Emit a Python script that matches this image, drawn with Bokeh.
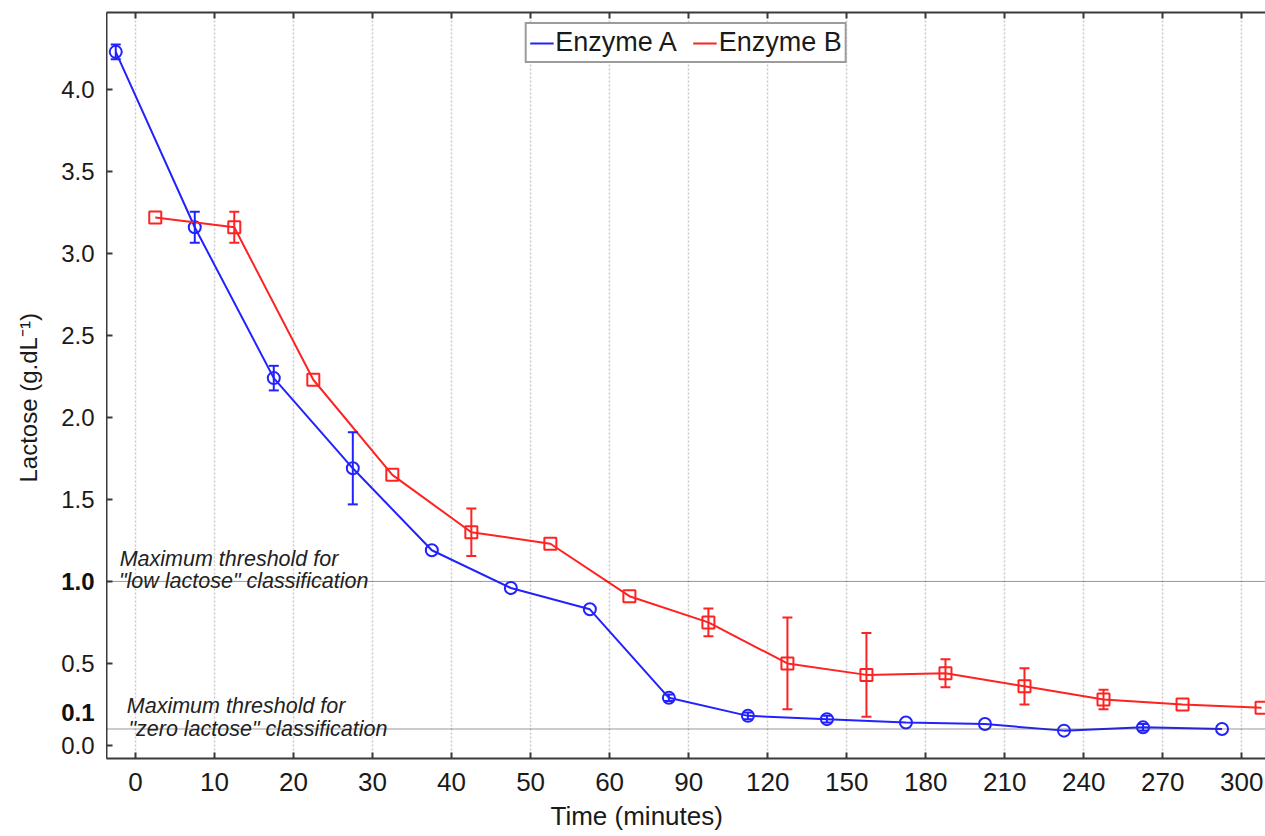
import math
from bokeh.plotting import figure
from bokeh.layouts import row
from bokeh.models import (Range1d, FixedTicker, LinearAxis, Span, Label, Legend,
                          LegendItem, ColumnDataSource, Whisker, TeeHead, Title)
from bokeh.core.properties import value
from bokeh.embed import file_html
from bokeh.resources import INLINE

# ---------------- data ----------------
time_labels = ["0", "10", "20", "30", "40", "50", "60", "90", "120", "150",
               "180", "210", "240", "270", "300"]
enzyme_a = [4.23, 3.16, 2.24, 1.69, 1.19, 0.96, 0.83, 0.29, 0.18, 0.16,
            0.14, 0.13, 0.09, 0.11, 0.10]
enzyme_a_err = [0.045, 0.095, 0.075, 0.22, 0, 0, 0, 0.02, 0.02, 0.02,
                0, 0, 0, 0.02, 0]
enzyme_b = [3.22, 3.16, 2.23, 1.65, 1.30, 1.23, 0.91, 0.75, 0.50, 0.43,
            0.44, 0.36, 0.28, 0.25, 0.23]
enzyme_b_err = [0, 0.095, 0, 0, 0.145, 0, 0, 0.085, 0.28, 0.255,
                 0.085, 0.11, 0.06, 0, 0]
y_ticks = [0.0, 0.5, 1.0, 1.5, 2.0, 2.5, 3.0, 3.5, 4.0]
low_lactose_limit = 1.0
zero_lactose_limit = 0.1
# the bold "0.1" label sits a little above its line, clear of "0.0"
zero_label_pos = 0.2

BLUE = "#2222ff"
RED = "#ff2222"
AX = "#3a3a3a"
TXT = "#1a1a1a"
FONT = "Liberation Sans"

slots = list(range(len(time_labels)))
a_x = [s - 0.25 for s in slots]
b_x = [s + 0.25 for s in slots]

src_a = ColumnDataSource(dict(x=a_x, y=enzyme_a))
src_b = ColumnDataSource(dict(x=b_x, y=enzyme_b))


def err_source(xs, ys, es):
    keep = [i for i, e in enumerate(es) if e > 0]
    return ColumnDataSource(dict(
        x=[xs[i] for i in keep],
        upper=[ys[i] + es[i] for i in keep],
        lower=[ys[i] - es[i] for i in keep]))


err_a = err_source(a_x, enzyme_a, enzyme_a_err)
err_b = err_source(b_x, enzyme_b, enzyme_b_err)

X_START, X_END = -0.367, 14.3
y_range = Range1d(-0.08, 4.47)
LEFT_W = 106
H = 836

# ---------------- main plot ----------------
p = figure(width=1265 - LEFT_W, height=H, output_backend="svg",
           toolbar_location=None, x_range=Range1d(X_START, X_END), y_range=y_range,
           min_border_left=0, min_border_right=0, min_border_top=12,
           min_border_bottom=78, background_fill_color="white",
           border_fill_color="white")
p.outline_line_color = None

xt = FixedTicker(ticks=slots)
p.xaxis.ticker = xt
p.xaxis.major_label_overrides = {s: lab for s, lab in zip(slots, time_labels)}
p.yaxis.ticker = FixedTicker(ticks=y_ticks)
p.yaxis.major_label_text_font_size = "1px"
p.yaxis.major_label_text_color = None
p.yaxis.major_label_standoff = 0

for ax in (p.xaxis[0], p.yaxis[0]):
    ax.axis_line_color = AX
    ax.axis_line_width = 2
    ax.major_tick_line_color = AX
    ax.major_tick_line_width = 2
    ax.major_tick_in = 6
    ax.major_tick_out = 0
    ax.minor_tick_line_color = None

p.xaxis.major_label_text_font = FONT
p.xaxis.major_label_text_color = TXT
p.xaxis.major_label_text_font_size = "26px"
p.xaxis.major_label_standoff = 14

top = LinearAxis(ticker=xt, axis_line_color=AX, axis_line_width=2,
                 major_tick_line_color=AX, major_tick_line_width=2,
                 major_tick_in=6, major_tick_out=0, minor_tick_line_color=None,
                 major_label_text_font_size="1px", major_label_text_color=None,
                 major_label_standoff=0)
p.add_layout(top, "above")

p.add_layout(Title(text="Time (minutes)", align="left", offset=444,
                   text_font=FONT, text_font_size="26px",
                   text_font_style="normal", text_color=TXT,
                   standoff=10), "below")

p.xgrid.ticker = xt
p.xgrid.grid_line_color = "#c8c8c8"
p.xgrid.grid_line_width = 1.5
p.xgrid.grid_line_dash = "2 2"
p.ygrid.grid_line_color = None

for lim in (low_lactose_limit, zero_lactose_limit):
    p.add_layout(Span(location=lim, dimension="width", line_color="#333333",
                      line_width=1, line_dash="1 1"))

for src, col in ((err_a, BLUE), (err_b, RED)):
    p.add_layout(Whisker(source=src, base="x", upper="upper", lower="lower",
                         dimension="height", line_color=col, line_width=2,
                         level="glyph",
                         upper_head=TeeHead(size=10, line_color=col, line_width=2),
                         lower_head=TeeHead(size=10, line_color=col, line_width=2)))

line_a = p.line("x", "y", source=src_a, line_color=BLUE, line_width=2)
p.scatter("x", "y", source=src_a, marker="circle", size=12, line_color=BLUE,
          line_width=2, fill_color=None)
line_b = p.line("x", "y", source=src_b, line_color=RED, line_width=2)
p.scatter("x", "y", source=src_b, marker="square", size=12, line_color=RED,
          line_width=2, fill_color=None)

dummy_a = p.scatter([], [], marker="circle_cross", size=12, line_color=BLUE,
                    line_width=2, fill_color=None)
dummy_b = p.scatter([], [], marker="square_cross", size=12, line_color=RED,
                    line_width=2, fill_color=None)

legend = Legend(items=[LegendItem(label="Enzyme A", renderers=[line_a, dummy_a]),
                       LegendItem(label="Enzyme B", renderers=[line_b, dummy_b])],
                orientation="horizontal", location="top_center",
                label_text_font=FONT, label_text_font_size="27px",
                label_text_color=TXT, glyph_width=24, glyph_height=24,
                label_standoff=2, spacing=16, padding=3, margin=10,
                border_line_color=AX, border_line_width=2,
                background_fill_color="white", background_fill_alpha=1)
p.add_layout(legend)

note_style = dict(text_font=FONT, text_font_size="21.5px", text_font_style="italic",
                  text_color="#222222", text_baseline="middle")
p.add_layout(Label(x=-0.20, y=low_lactose_limit, y_offset=22,
                   text="Maximum threshold for", **note_style))
p.add_layout(Label(x=-0.21, y=low_lactose_limit,
                   text="\"low lactose\" classification", **note_style))
p.add_layout(Label(x=-0.11, y=zero_lactose_limit, y_offset=23,
                   text="Maximum threshold for", **note_style))
p.add_layout(Label(x=-0.09, y=zero_lactose_limit,
                   text="\"zero lactose\" classification", **note_style))

# ---------------- left strip: y tick labels and y title ----------------
q = figure(width=LEFT_W, height=H, output_backend="svg", toolbar_location=None,
           x_range=Range1d(0, LEFT_W), y_range=y_range,
           min_border_left=0, min_border_right=0, min_border_top=12,
           min_border_bottom=78, background_fill_color="white",
           border_fill_color="white")
q.outline_line_color = None
q.axis.visible = False
q.grid.visible = False

plain_ticks = [t for t in y_ticks if t != low_lactose_limit]
q.text(x=[LEFT_W - 12] * len(plain_ticks), y=plain_ticks,
       text=["%.1f" % t for t in plain_ticks],
       text_font=value(FONT), text_font_size="24px", text_color=TXT,
       text_align="right", text_baseline="middle")
q.text(x=[LEFT_W - 12] * 2, y=[low_lactose_limit, zero_label_pos],
       text=["%.1f" % low_lactose_limit, "%.1f" % zero_lactose_limit],
       text_font=value(FONT), text_font_size="24px", text_font_style="bold",
       text_color="#111111", text_align="right", text_baseline="middle")
q.text(x=[28], y=[2.12], text=["Lactose (g.dL\u207b\u00b9)"], angle=math.pi / 2,
       text_font=value(FONT), text_font_size="24px", text_color=TXT,
       text_align="center", text_baseline="middle")

layout = row(q, p, spacing=0)
open("out.html", "w").write(file_html(layout, INLINE))
